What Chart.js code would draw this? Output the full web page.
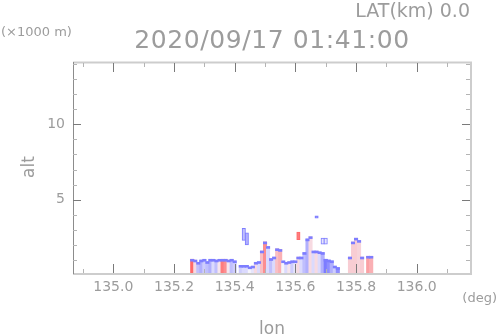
<!DOCTYPE html>
<html>
<head>
<meta charset="utf-8">
<script src="https://cdn.jsdelivr.net/npm/chart.js@4.4.0/dist/chart.umd.min.js"></script>
<style>
html,body{margin:0;padding:0;background:#fff;}
#wrap{width:498px;height:336px;}
</style>
</head>
<body>
<div id="wrap"><canvas id="xsec" width="498" height="336"></canvas></div>
<script>
// echo columns along the section (lon step 0.01 deg)
let lonCols = [135.26,135.27,135.28,135.29,135.30,135.31,135.32,135.33,135.34,135.35,135.36,135.37,135.38,135.39,135.40,
  135.42,135.43,135.44,135.45,135.46,135.47,135.48,135.49,135.50,135.51,135.52,135.53,135.54,135.55,135.56,135.57,135.58,135.59,135.60,
  135.61,135.62,135.63,135.64,135.65,135.66,135.67,135.68,135.69,135.70,135.71,135.72,135.73,135.74,
  135.78,135.79,135.80,135.81,135.82,
  135.84,135.85];
// echo top (km)
let topAlt = [1.05,1.0,0.85,1.0,1.05,0.9,1.05,1.05,1.0,1.05,1.05,1.05,1.0,1.05,0.95,
  0.65,0.65,0.65,0.55,0.6,0.85,0.9,1.6,2.2,1.9,1.1,1.2,1.75,1.7,0.95,0.85,0.9,0.95,0.95,
  1.2,1.2,1.5,2.4,2.55,1.6,1.6,1.55,1.5,1.05,1.0,0.95,0.6,0.5,
  1.2,2.2,2.45,2.3,1.2,
  1.25,1.25];
// doppler velocity (-1 approaching/blue .. +1 receding/red)
let dopVel = [1,0.3,-0.5,-0.6,-0.4,-0.5,-0.6,-0.3,-0.5,0.2,0.9,0.8,0.2,-0.5,-0.4,
  -0.4,-0.3,-0.3,0,-0.2,0.3,-0.3,0.5,0.8,-0.3,-0.5,-0.3,0.5,0.6,0,-0.3,0.2,-0.4,-0.2,
  0.3,-0.3,-0.5,-0.6,0.3,-0.3,0.3,-0.3,-0.6,-0.9,-0.8,-0.6,-0.4,-0.8,
  0.4,0.4,0.4,0.35,0.4,
  0.7,0.6];

// isolated echoes aloft
let blobLon  = [135.43,135.44,135.61,135.67,135.69,135.70];
let blobBase = [2.3,2.0,2.35,3.77,2.05,2.05];
let blobTop  = [3.1,2.8,2.85,3.93,2.45,2.45];
let blobVel  = [-0.5,-0.6,0.9,-0.8,-0.2,-0.2];

let lonTicks = [135.0,135.2,135.4,135.6,135.8,136.0];
let altTicks = [5,10];
let lonRange = [134.867,136.179];
let altRange = [0.14,14.13];

function velColor(v){
  let a = Math.pow(Math.abs(v),1.4);
  let base = [245,244,252];
  let tgt = v < 0 ? [105,105,255] : [255,105,105];
  let c = base.map((b,i)=>Math.round(b+(tgt[i]-b)*a));
  return "rgb("+c.join(",")+")";
}

let colData = lonCols.map((x,i)=>({x:x, y:[altRange[0], topAlt[i]]}));
let edgeData = lonCols.map((x,i)=>({x:x, y:[topAlt[i]-0.13, topAlt[i]]}));
let blobData = blobLon.map((x,i)=>({x:x, y:[blobBase[i], blobTop[i]]}));

const frame = {
  id:"frame",
  afterDraw(chart){
    const ctx = chart.ctx, a = chart.chartArea;
    const xs = chart.scales.x, ys = chart.scales.y;
    ctx.save();

    // light frame
    ctx.strokeStyle = "#cdcdcd";
    ctx.lineWidth = 2;
    ctx.beginPath();
    ctx.moveTo(a.left, a.top+0.5); ctx.lineTo(a.right, a.top+0.5);
    ctx.lineTo(a.right, a.bottom+1);
    ctx.lineTo(a.left, a.bottom+1);
    ctx.stroke();
    ctx.strokeStyle = "#8c8c8c";
    ctx.lineWidth = 1;
    ctx.beginPath();
    ctx.moveTo(a.left+0.5, a.top); ctx.lineTo(a.left+0.5, a.bottom+1);
    ctx.stroke();

    // lon ticks every 0.1
    for(let k=1349;k<=1361;k++){
      let v = k/10;
      let px = Math.round(xs.getPixelForValue(v))+0.5;
      let major = k%2===0;
      ctx.strokeStyle = major ? "#7a7a7a" : "#b4b4b4";
      let len = major ? 9 : 4;
      ctx.beginPath();
      ctx.moveTo(px, a.bottom); ctx.lineTo(px, a.bottom-len);
      ctx.moveTo(px, a.top+1); ctx.lineTo(px, a.top+1+len);
      ctx.stroke();
    }
    // alt ticks every 1 km
    for(let v=1;v<=14;v++){
      let py = Math.round(ys.getPixelForValue(v))+0.5;
      if(py < a.top+2) continue;
      let major = v%5===0;
      ctx.strokeStyle = major ? "#7a7a7a" : "#b4b4b4";
      let len = major ? 8 : 4;
      ctx.beginPath();
      ctx.moveTo(a.left, py); ctx.lineTo(a.left+len, py);
      ctx.moveTo(a.right-1, py); ctx.lineTo(a.right-1-len, py);
      ctx.stroke();
    }

    ctx.fillStyle = "#9c9c9c";
    ctx.font = "14px 'DejaVu Sans'";
    ctx.textAlign = "center";
    ctx.textBaseline = "middle";
    lonTicks.forEach(v=>{
      ctx.fillText(v.toFixed(1), xs.getPixelForValue(v), a.bottom+14);
    });
    ctx.textAlign = "right";
    altTicks.forEach(v=>{
      ctx.fillText(String(v), a.left-8, ys.getPixelForValue(v));
    });

    ctx.textBaseline = "alphabetic";
    ctx.font = "13px 'DejaVu Sans'";
    ctx.textAlign = "right";
    ctx.fillText("(deg)", 497, 302);
    ctx.textAlign = "left";
    ctx.fillText("(\u00d71000 m)", 1, 36);

    ctx.font = "17px 'DejaVu Sans'";
    ctx.textAlign = "center";
    ctx.fillText("lon", 272, 334);
    ctx.save();
    ctx.translate(34, 167);
    ctx.rotate(-Math.PI/2);
    ctx.fillText("alt", 0, 0);
    ctx.restore();

    ctx.font = "19px 'DejaVu Sans'";
    ctx.textAlign = "right";
    ctx.fillText("LAT(km) 0.0", 470, 17);

    ctx.font = "25px 'DejaVu Sans'";
    ctx.textAlign = "center";
    ctx.letterSpacing = "0.6px";
    ctx.fillText("2020/09/17 01:41:00", 272, 48);

    ctx.restore();
  }
};

new Chart(document.getElementById("xsec"),{
  type:"bar",
  data:{
    datasets:[
      {
        label:"echo",
        data:colData,
        backgroundColor:dopVel.map(velColor),
        order:3
      },
      {
        label:"edge",
        data:edgeData,
        backgroundColor:"#7d7dff",
        order:2
      },
      {
        label:"aloft",
        data:blobData,
        backgroundColor:blobVel.map(velColor),
        borderColor:blobVel.map(v=> v>0.5 ? "#ff6a6a" : "#7d7dff"),
        borderWidth:1,
        borderSkipped:false,
        order:1
      }
    ]
  },
  options:{
    responsive:false,
    animation:false,
    devicePixelRatio:1,
    layout:{padding:{left:73,right:27,top:62,bottom:63}},
    datasets:{bar:{grouped:false,barThickness:3.4,borderWidth:0}},
    plugins:{legend:{display:false},tooltip:{enabled:false},title:{display:false}},
    scales:{
      x:{type:"linear",min:lonRange[0],max:lonRange[1],offset:false,display:false},
      y:{type:"linear",min:altRange[0],max:altRange[1],display:false}
    }
  },
  plugins:[frame]
});
</script>
</body>
</html>
